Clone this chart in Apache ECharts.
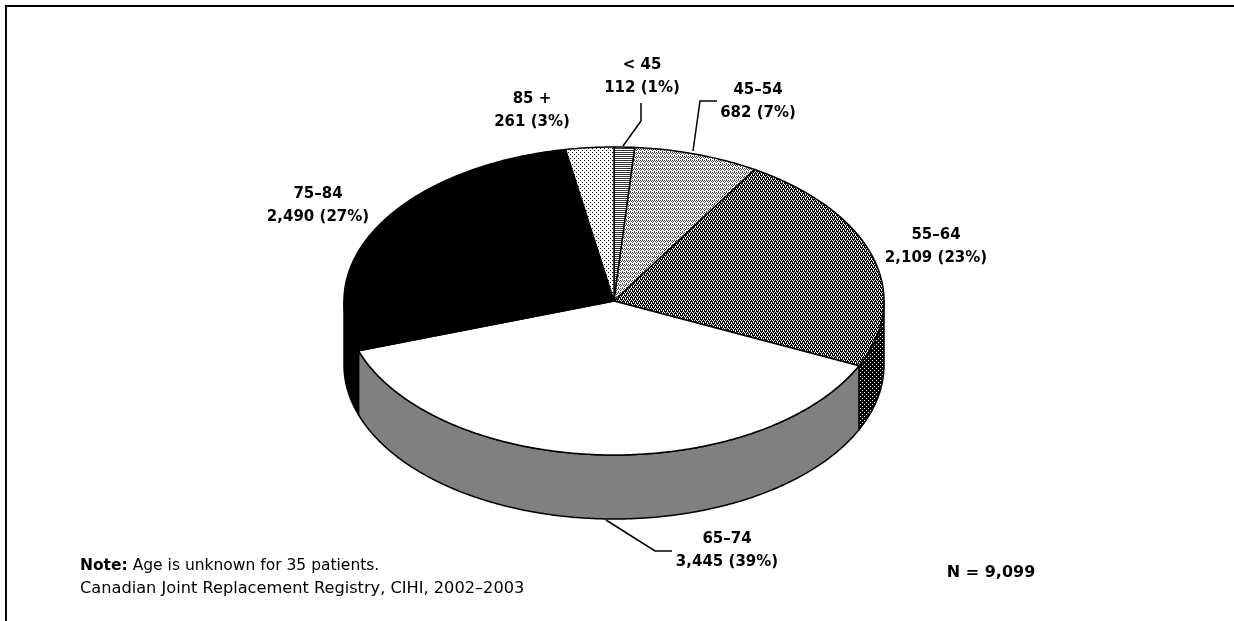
<!DOCTYPE html>
<html>
<head>
<meta charset="utf-8">
<script src="https://cdn.jsdelivr.net/npm/echarts@6/dist/echarts.min.js"></script>
<style>
html,body{margin:0;padding:0;background:#fff;}
#chart{width:1234px;height:621px;}
</style>
</head>
<body>
<div id="chart"></div>
<script>
// ---- data ----
const categories = ['< 45', '45–54', '55–64', '65–74', '75–84', '85 +'];
const values = [112, 682, 2109, 3445, 2490, 261];
const percents = [1, 7, 23, 39, 27, 3];
const noteText = 'Age is unknown for 35 patients.';
const sourceText = 'Canadian Joint Replacement Registry, CIHI, 2002–2003';

// ---- layout ----
const CX = 614, CY = 301, RX = 270, RY = 154, DEPTH = 64;
const FONT = '"DejaVu Sans", sans-serif';

function makePattern(size, bg, fg, pixels) {
  const c = document.createElement('canvas');
  c.width = c.height = size;
  const ctx = c.getContext('2d');
  ctx.fillStyle = bg; ctx.fillRect(0, 0, size, size);
  ctx.fillStyle = fg;
  pixels.forEach(p => ctx.fillRect(p[0], p[1], 1, 1));
  return { image: c, repeat: 'repeat' };
}
function stripes() {
  const c = document.createElement('canvas');
  c.width = 2; c.height = 2;
  const ctx = c.getContext('2d');
  ctx.fillStyle = '#fff'; ctx.fillRect(0, 0, 2, 2);
  ctx.fillStyle = '#333'; ctx.fillRect(0, 0, 2, 1);
  return { image: c, repeat: 'repeat' };
}
const topFills = [
  stripes(),
  makePattern(4, '#fff', '#444', [[0,0],[2,0],[1,1],[3,1],[0,2],[2,3]]),
  makePattern(4, '#000', '#fff', [[0,0],[2,0],[1,2],[3,2],[1,1],[3,3]]),
  '#ffffff',
  '#000000',
  makePattern(4, '#fff', '#000', [[0,0],[2,2]])
];
const sideFills = [
  stripes(),
  makePattern(4, '#fff', '#000', [[0,0],[2,0],[1,2],[3,2],[1,1],[3,3]]),
  makePattern(4, '#000', '#fff', [[0,0],[2,2]]),
  '#808080',
  '#000000',
  makePattern(4, '#fff', '#000', [[0,0],[2,2],[1,1]])
];

const total = values.reduce((a, b) => a + b, 0);
const cumulative = [];
values.reduce((acc, v, i) => { cumulative[i] = acc; return acc + v; }, 0);

function pt(theta, dy) {
  return [CX + RX * Math.sin(theta), CY - RY * Math.cos(theta) + (dy || 0)];
}
function arc(a, b, dy) {
  const pts = [];
  const n = Math.max(2, Math.ceil(Math.abs(b - a) / (Math.PI / 360)));
  for (let i = 0; i <= n; i++) pts.push(pt(a + (b - a) * i / n, dy));
  return pts;
}

function renderItem(params, api) {
  const i = params.dataIndex;
  const v = api.value(0);
  const a = cumulative[i] / total * 2 * Math.PI;
  const b = (cumulative[i] + v) / total * 2 * Math.PI;
  const children = [];
  const sa = Math.max(a, Math.PI / 2), sb = Math.min(b, 3 * Math.PI / 2);
  if (sa < sb) {
    const side = arc(sa, sb, 0).concat(arc(sb, sa, DEPTH));
    children.push({
      type: 'polygon', shape: { points: side },
      style: { fill: sideFills[i], stroke: '#000', lineWidth: 1.5, lineJoin: 'round' }
    });
  }
  const top = [[CX, CY]].concat(arc(a, b, 0));
  children.push({
    type: 'polygon', shape: { points: top },
    style: { fill: topFills[i], stroke: '#000', lineWidth: 1.5, lineJoin: 'round' }
  });
  return { type: 'group', children: children };
}

function fmt(n) { return n.toLocaleString('en-US'); }
const labelPos = [
  [642, 77], [758, 102], [936, 247], [727, 551], [318, 206], [532, 111]
];
const labelGraphics = categories.map((c, i) => ({
  type: 'text', x: labelPos[i][0], y: labelPos[i][1],
  style: {
    text: c + '\n' + fmt(values[i]) + ' (' + percents[i] + '%)',
    font: 'bold 15px ' + FONT, fill: '#000', align: 'center', verticalAlign: 'middle',
    lineHeight: 23
  }
}));
const leaderStyle = { stroke: '#000', lineWidth: 1.5, fill: null };
const leaders = [
  { type: 'polyline', shape: { points: [[641, 103], [641, 121], [623, 146]] }, style: leaderStyle },
  { type: 'polyline', shape: { points: [[717, 101], [700, 101], [693, 151]] }, style: leaderStyle },
  { type: 'polyline', shape: { points: [[606, 520], [655, 551], [672, 551]] }, style: leaderStyle }
];

const chart = echarts.init(document.getElementById('chart'), null, { renderer: 'canvas' });
chart.setOption({
  animation: false,
  backgroundColor: '#fff',
  series: [{
    type: 'custom',
    coordinateSystem: 'none',
    renderItem: renderItem,
    data: values.map(v => [v]),
    silent: true
  }],
  graphic: [
    { type: 'line', shape: { x1: 5, y1: 6, x2: 1234, y2: 6 }, style: { stroke: '#000', lineWidth: 2 } },
    { type: 'line', shape: { x1: 6, y1: 5, x2: 6, y2: 621 }, style: { stroke: '#000', lineWidth: 2 } },
    ...leaders,
    ...labelGraphics,
    {
      type: 'text', x: 80, y: 566,
      style: {
        text: '{b|Note:} ' + noteText,
        font: '15.5px ' + FONT, fill: '#000', verticalAlign: 'middle',
        rich: { b: { fontWeight: 'bold', fontSize: 15.5, fontFamily: FONT } }
      }
    },
    {
      type: 'text', x: 80, y: 589,
      style: { text: sourceText, font: '16.2px ' + FONT, fill: '#000', verticalAlign: 'middle' }
    },
    {
      type: 'text', x: 991, y: 573,
      style: { text: 'N = ' + fmt(total), font: 'bold 16px ' + FONT, fill: '#000', align: 'center', verticalAlign: 'middle' }
    }
  ]
});
</script>
</body>
</html>
